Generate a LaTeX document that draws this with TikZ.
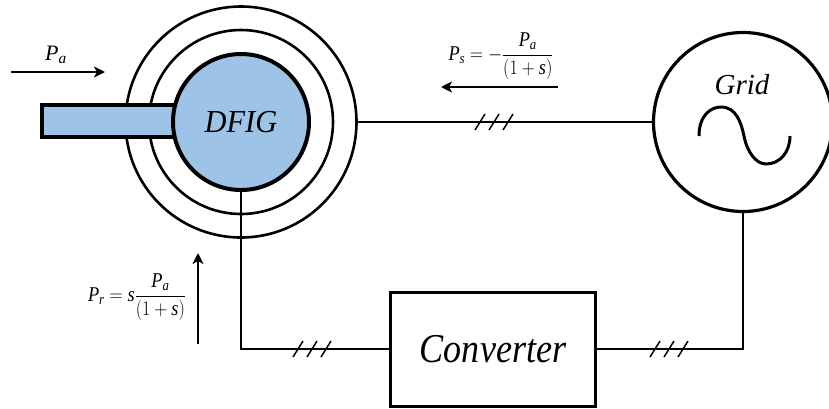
\documentclass[tikz,border=0pt]{standalone}
\usepackage{amsmath}
\usepackage{graphicx}
\usepackage{fontspec}
\setmainfont{Liberation Serif}
\usetikzlibrary{arrows.meta}
\definecolor{rotorblue}{RGB}{157,195,230}
\newcommand{\vi}[1]{\text{\itshape #1}}
\newcommand{\fs}[1]{\fontsize{#1}{#1}\selectfont}
\tikzset{
  x=1pt,y=-1pt,
  ring/.style={circle,draw=black,line width=2.6pt,inner sep=0pt,outer sep=0pt},
  wire/.style={draw=black,line width=1.5pt},
  flow/.style={draw=black,line width=2pt,-{Stealth[length=11pt,width=11pt,inset=3pt]}},
  heavyflow/.style={flow,line width=2.6pt},
  eq/.style={inner sep=0pt,outer sep=0pt,text=black},
  phase/.pic={\draw[line width=1.5pt] (-19,8) -- (-9,-8) (-5,8) -- (5,-8) (9,8) -- (19,-8);}
}
\begin{document}
\begin{tikzpicture}
\useasboundingbox (0,0) rectangle (829,408);
% rings
\node[ring,minimum size=231pt] (outer) at (241,122) {};
\node[ring,minimum size=184pt] (middle) at (241,122) {};
% shaft
\node[draw=black,fill=rotorblue,line width=4.5pt,minimum width=136pt,minimum height=32pt,inner sep=0pt,outer sep=0pt] (shaft) at (110,121) {};
% rotor
\node[circle,draw=black,fill=rotorblue,line width=4pt,minimum size=136pt,inner sep=0pt,outer sep=0pt,font=\fs{32}\itshape,text=black] (dfig) at (241,122) {\scalebox{.95}[1]{DFIG}};
% grid
\node[circle,draw=black,line width=3.2pt,minimum size=179pt,inner sep=0pt,outer sep=0pt] (grid) at (743,122) {};
\node[inner sep=0pt,font=\fs{29}\itshape,text=black] (gridlabel) at (742,85) {Grid};
\coordinate (sineA) at (699,136);
\coordinate (sineB) at (744,136);
\coordinate (sineC) at (790,136);
\draw[line width=3pt] (sineA) .. controls (699,115) and (711,107) .. (721,107)
   .. controls (736,107) and (741,122) .. (sineB)
   .. controls (747,152) and (756,164) .. (766,164)
   .. controls (780,164) and (790,152) .. (sineC);
% converter
\node[draw=black,line width=3pt,minimum width=205pt,minimum height=114pt,inner sep=0pt,outer sep=0pt,font=\fs{41}\itshape,text=black] (conv) at (493,349) {\scalebox{.88}[1]{Converter}};
% connectors
\coordinate (tickT) at (494,122);
\coordinate (tickL) at (312,349);
\coordinate (tickR) at (669,349);
\draw[wire] (outer.east) -- (grid.west);
\draw[wire] (dfig.south) |- (conv.west);
\draw[wire] (conv.east) -| (grid.south);
\pic at (tickT) {phase};
\pic at (tickL) {phase};
\pic at (tickR) {phase};
% power flows
\coordinate (paA) at (11,72); \coordinate (paB) at (105,72);
\draw[flow] (paA) -- (paB);
\node[eq,font=\fs{22}] (pa) at (56,55) {$\vi{P}_{\vi{a}}$};
\coordinate (psA) at (558,87); \coordinate (psB) at (441,87);
\draw[heavyflow] (psA) -- (psB);
\node[eq,font=\fs{21}] (ps) at (501,56) {\scalebox{.87}[1]{$\vi{P}_{\vi{s}}=-\dfrac{\vi{P}_{\vi{a}}}{(1+\vi{s})}$}};
\coordinate (prA) at (198,344); \coordinate (prB) at (198,253);
\draw[heavyflow] (prA) -- (prB);
\node[eq,font=\fs{21}] (pr) at (137,297) {\scalebox{.87}[1]{$\vi{P}_{\vi{r}}=\vi{s}\dfrac{\vi{P}_{\vi{a}}}{(1+\vi{s})}$}};
\end{tikzpicture}
\end{document}
